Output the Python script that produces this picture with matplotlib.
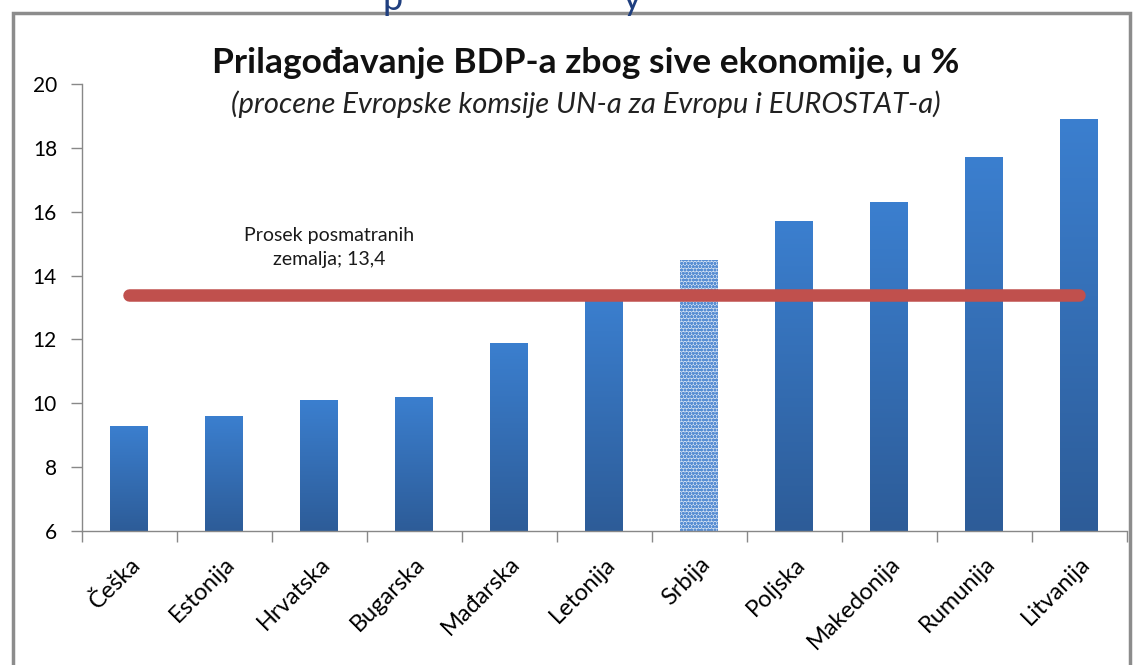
import numpy as np
import matplotlib.pyplot as plt
from matplotlib.patches import Rectangle
from matplotlib.colors import LinearSegmentedColormap

countries = ['Češka', 'Estonija', 'Hrvatska', 'Bugarska', 'Mađarska', 'Letonija',
             'Srbija', 'Poljska', 'Makedonija', 'Rumunija', 'Litvanija']
values = [9.3, 9.6, 10.1, 10.2, 11.9, 13.3, 14.5, 15.7, 16.3, 17.7, 18.9]
average = 13.4
highlight = 'Srbija'

plt.rcParams['font.family'] = ['Lato', 'DejaVu Sans']

fig = plt.figure(figsize=(11.38, 6.65), dpi=100)
ax = fig.add_axes([0.072, 0.2015, 0.918, 0.6722])

x = np.arange(len(countries))
bars = ax.bar(x, values, width=0.4, color='none', zorder=2)

# vertical gradient for the ordinary bars, dotted fill for Serbia
grad = np.linspace(0, 1, 256).reshape(-1, 1)
cmap = LinearSegmentedColormap.from_list('bars', ['#2d5c98', '#3b7fcf'])
for name, bar in zip(countries, bars):
    x0, w, h = bar.get_x(), bar.get_width(), bar.get_height()
    if name == highlight:
        ax.add_patch(Rectangle((x0, 6), w, h - 6, facecolor='#d3e1f3',
                               edgecolor='#5a8fd3', hatch='ooooo', linewidth=0, zorder=2))
    else:
        im = ax.imshow(grad, extent=(x0, x0 + w, 6, h), aspect='auto', origin='lower',
                       cmap=cmap, zorder=2)
        clip = Rectangle((x0, 6), w, h - 6, transform=ax.transData, facecolor='none')
        ax.add_patch(clip)
        im.set_clip_path(clip)

ax.plot([x[0], x[-1]], [average, average], color='#c0504d', linewidth=9,
        solid_capstyle='round', zorder=3)
ax.text(2.1, 14.25, 'Prosek posmatranih\nzemalja; 13,4', ha='center', va='bottom',
        fontsize=14, color='#1a1a1a', linespacing=1.5)

ax.set_xlim(-0.5, len(countries) - 0.5)
ax.set_ylim(6, 20)
ax.set_yticks(range(6, 21, 2))
ax.set_xticks(x)
ax.set_xticks(np.arange(-0.5, len(countries), 1), minor=True)
ax.set_xticklabels(countries, rotation=45, ha='right', rotation_mode='anchor', fontsize=17)
ax.tick_params(axis='x', which='major', length=0, pad=16)
ax.tick_params(axis='x', which='minor', length=8, color='#888888', width=1)
ax.tick_params(axis='y', length=8, color='#888888', width=1, labelsize=15, pad=10)
for s in ['top', 'right']:
    ax.spines[s].set_visible(False)
for s in ['left', 'bottom']:
    ax.spines[s].set_color('#888888')
    ax.spines[s].set_linewidth(1)

fig.text(0.515, 0.905, 'Prilagođavanje BDP-a zbog sive ekonomije, u %', ha='center',
         va='center', fontsize=25.5, fontweight='bold', color='#111111')
fig.text(0.515, 0.843, '(procene Evropske komsije UN-a za Evropu i EUROSTAT-a)', ha='center',
         va='center', fontsize=21, style='italic', color='#222222')

# frame of the slide chart and the cut-off heading above it
fig.patches.append(Rectangle((0.011, -0.05), 0.982, 1.03, transform=fig.transFigure,
                             fill=False, edgecolor='#8c8c8c', linewidth=2.5))
fig.text(0.345, 1.0, 'p', ha='center', va='center', fontsize=26, color='#1f3f7f')
fig.text(0.555, 1.0, 'y', ha='center', va='center', fontsize=26, color='#1f3f7f')

fig.savefig('out.png', dpi=100)
